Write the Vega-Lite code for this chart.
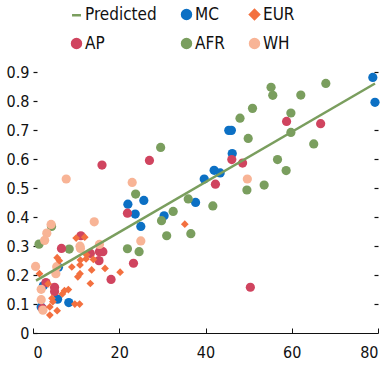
{
  "$schema": "https://vega.github.io/schema/vega-lite/v6.json",
  "autosize": {"type": "none"},
  "padding": {"left": 33, "top": 58, "right": 10, "bottom": 32},
  "width": 345,
  "height": 275,
  "config": {
    "view": {"stroke": null},
    "font": "DejaVu Sans Condensed, Liberation Sans Narrow, Roboto, sans-serif",
    "axis": {"labelFont": "DejaVu Sans Condensed, Liberation Sans Narrow, Roboto, sans-serif", "labelFontSize": 16, "labelColor": "#111", "tickColor": "#111", "domainColor": "#111", "grid": false, "title": null},
    "legend": {"labelFont": "DejaVu Sans Condensed, Liberation Sans Narrow, Roboto, sans-serif"}
  },
  "datasets": {
    "pred": [
      {"x": 0.7, "y": 0.181, "series": "Predicted"},
      {"x": 79.3, "y": 0.862, "series": "Predicted"}
    ],
    "pts": [
      {"x": 78.8, "y": 0.883, "series": "MC"},
      {"x": 79.3, "y": 0.797, "series": "MC"},
      {"x": 45.4, "y": 0.70, "series": "MC"},
      {"x": 46.0, "y": 0.70, "series": "MC"},
      {"x": 46.2, "y": 0.62, "series": "MC"},
      {"x": 42.0, "y": 0.562, "series": "MC"},
      {"x": 43.4, "y": 0.553, "series": "MC"},
      {"x": 39.7, "y": 0.532, "series": "MC"},
      {"x": 37.7, "y": 0.451, "series": "MC"},
      {"x": 30.4, "y": 0.405, "series": "MC"},
      {"x": 22.0, "y": 0.445, "series": "MC"},
      {"x": 25.7, "y": 0.458, "series": "MC"},
      {"x": 23.7, "y": 0.411, "series": "MC"},
      {"x": 25.0, "y": 0.368, "series": "MC"},
      {"x": 5.9, "y": 0.227, "series": "MC"},
      {"x": 2.4, "y": 0.163, "series": "MC"},
      {"x": 5.7, "y": 0.117, "series": "MC"},
      {"x": 8.3, "y": 0.105, "series": "MC"},
      {"x": 1.9, "y": 0.09, "series": "MC"},
      {"x": 55.2, "y": 0.849, "series": "AFR"},
      {"x": 55.6, "y": 0.821, "series": "AFR"},
      {"x": 67.9, "y": 0.862, "series": "AFR"},
      {"x": 62.1, "y": 0.822, "series": "AFR"},
      {"x": 50.9, "y": 0.776, "series": "AFR"},
      {"x": 48.0, "y": 0.742, "series": "AFR"},
      {"x": 59.8, "y": 0.76, "series": "AFR"},
      {"x": 59.8, "y": 0.693, "series": "AFR"},
      {"x": 49.9, "y": 0.672, "series": "AFR"},
      {"x": 65.1, "y": 0.653, "series": "AFR"},
      {"x": 56.7, "y": 0.599, "series": "AFR"},
      {"x": 58.7, "y": 0.561, "series": "AFR"},
      {"x": 53.6, "y": 0.511, "series": "AFR"},
      {"x": 49.6, "y": 0.494, "series": "AFR"},
      {"x": 41.7, "y": 0.439, "series": "AFR"},
      {"x": 36.0, "y": 0.463, "series": "AFR"},
      {"x": 32.5, "y": 0.42, "series": "AFR"},
      {"x": 29.8, "y": 0.388, "series": "AFR"},
      {"x": 31.0, "y": 0.336, "series": "AFR"},
      {"x": 36.6, "y": 0.343, "series": "AFR"},
      {"x": 29.6, "y": 0.641, "series": "AFR"},
      {"x": 23.8, "y": 0.48, "series": "AFR"},
      {"x": 21.9, "y": 0.291, "series": "AFR"},
      {"x": 24.6, "y": 0.281, "series": "AFR"},
      {"x": 1.4, "y": 0.307, "series": "AFR"},
      {"x": 8.4, "y": 0.29, "series": "AFR"},
      {"x": 4.3, "y": 0.368, "series": "AFR"},
      {"x": 58.8, "y": 0.731, "series": "AP"},
      {"x": 66.7, "y": 0.723, "series": "AP"},
      {"x": 46.1, "y": 0.599, "series": "AP"},
      {"x": 48.6, "y": 0.587, "series": "AP"},
      {"x": 42.3, "y": 0.514, "series": "AP"},
      {"x": 50.4, "y": 0.158, "series": "AP"},
      {"x": 27.0, "y": 0.596, "series": "AP"},
      {"x": 21.9, "y": 0.414, "series": "AP"},
      {"x": 16.0, "y": 0.58, "series": "AP"},
      {"x": 6.6, "y": 0.292, "series": "AP"},
      {"x": 11.1, "y": 0.336, "series": "AP"},
      {"x": 15.4, "y": 0.281, "series": "AP"},
      {"x": 16.2, "y": 0.281, "series": "AP"},
      {"x": 15.3, "y": 0.25, "series": "AP"},
      {"x": 18.1, "y": 0.185, "series": "AP"},
      {"x": 23.3, "y": 0.241, "series": "AP"},
      {"x": 13.3, "y": 0.275, "series": "AP"},
      {"x": 3.0, "y": 0.174, "series": "AP"},
      {"x": 5.0, "y": 0.158, "series": "AP"},
      {"x": 5.0, "y": 0.143, "series": "AP"},
      {"x": 2.2, "y": 0.085, "series": "AP"},
      {"x": 49.7, "y": 0.532, "series": "WH"},
      {"x": 23.0, "y": 0.52, "series": "WH"},
      {"x": 25.0, "y": 0.318, "series": "WH"},
      {"x": 7.7, "y": 0.532, "series": "WH"},
      {"x": 14.2, "y": 0.384, "series": "WH"},
      {"x": 4.2, "y": 0.375, "series": "WH"},
      {"x": 3.2, "y": 0.345, "series": "WH"},
      {"x": 2.7, "y": 0.32, "series": "WH"},
      {"x": 0.6, "y": 0.23, "series": "WH"},
      {"x": 11.0, "y": 0.292, "series": "WH"},
      {"x": 10.9, "y": 0.3, "series": "WH"},
      {"x": 15.4, "y": 0.306, "series": "WH"},
      {"x": 5.5, "y": 0.229, "series": "WH"},
      {"x": 1.9, "y": 0.151, "series": "WH"},
      {"x": 1.9, "y": 0.115, "series": "WH"},
      {"x": 2.3, "y": 0.079, "series": "WH"},
      {"x": 5.3, "y": 0.205, "series": "WH"},
      {"x": 10.0, "y": 0.328, "series": "EUR"},
      {"x": 12.0, "y": 0.331, "series": "EUR"},
      {"x": 12.3, "y": 0.256, "series": "EUR"},
      {"x": 14.0, "y": 0.254, "series": "EUR"},
      {"x": 12.4, "y": 0.27, "series": "EUR"},
      {"x": 6.1, "y": 0.25, "series": "EUR"},
      {"x": 5.6, "y": 0.26, "series": "EUR"},
      {"x": 9.0, "y": 0.228, "series": "EUR"},
      {"x": 10.9, "y": 0.235, "series": "EUR"},
      {"x": 11.0, "y": 0.252, "series": "EUR"},
      {"x": 13.6, "y": 0.218, "series": "EUR"},
      {"x": 16.7, "y": 0.223, "series": "EUR"},
      {"x": 20.2, "y": 0.21, "series": "EUR"},
      {"x": 10.9, "y": 0.205, "series": "EUR"},
      {"x": 10.4, "y": 0.194, "series": "EUR"},
      {"x": 1.5, "y": 0.205, "series": "EUR"},
      {"x": 13.3, "y": 0.171, "series": "EUR"},
      {"x": 3.5, "y": 0.17, "series": "EUR"},
      {"x": 8.2, "y": 0.15, "series": "EUR"},
      {"x": 7.3, "y": 0.146, "series": "EUR"},
      {"x": 6.8, "y": 0.135, "series": "EUR"},
      {"x": 4.4, "y": 0.12, "series": "EUR"},
      {"x": 4.6, "y": 0.108, "series": "EUR"},
      {"x": 9.7, "y": 0.1, "series": "EUR"},
      {"x": 10.8, "y": 0.1, "series": "EUR"},
      {"x": 3.9, "y": 0.09, "series": "EUR"},
      {"x": 5.6, "y": 0.077, "series": "EUR"},
      {"x": 3.9, "y": 0.062, "series": "EUR"},
      {"x": 35.2, "y": 0.376, "series": "EUR"}
    ]
  },
  "layer": [
    {
      "data": {"name": "pts"},
      "mark": {"type": "point", "filled": true, "opacity": 1},
      "encoding": {
        "x": {"field": "x", "type": "quantitative", "scale": {"domain": [0, 80], "nice": false},
          "axis": {"values": [0, 20, 40, 60, 80], "tickSize": -5, "labelPadding": 16, "domainWidth": 1.2}},
        "y": {"field": "y", "type": "quantitative", "scale": {"domain": [0, 0.95], "nice": false},
          "axis": {"orient": "right", "values": [0.1, 0.2, 0.3, 0.4, 0.5, 0.6, 0.7, 0.8, 0.9], "labels": false, "domain": false, "tickSize": -4, "tickWidth": 1.2}},
        "color": {"field": "series", "type": "nominal",
          "scale": {"domain": ["Predicted", "MC", "EUR", "AP", "AFR", "WH"], "range": ["#7a9e5e", "#0c70c4", "#f3703f", "#d0445f", "#7a9e5e", "#f8b496"]},
          "legend": {
            "orient": "none", "legendX": 35, "legendY": -52, "direction": "horizontal", "columns": 3,
            "title": null, "labelFontSize": 17, "labelColor": "#111", "columnPadding": 20, "rowPadding": 10,
            "symbolSize": 80, "labelOffset": 0, "symbolStrokeWidth": 2.5,
            "values": ["Predicted", "MC", "EUR", "AP", "AFR", "WH"],
            "labelExpr": "datum.label === 'AFR' ? datum.label + '\u2007' : datum.label",
            "encode": {
              "symbols": {"update": {
                "shape": {"signal": "datum.value === 'Predicted' ? 'stroke' : datum.value === 'EUR' ? 'diamond' : 'circle'"},
                "fill": {"signal": "datum.value === 'Predicted' ? 'transparent' : scale('color', datum.value)"},
                "stroke": {"signal": "scale('color', datum.value)"},
                "strokeWidth": {"signal": "datum.value === 'Predicted' ? 2.5 : 0"},
                "size": {"signal": "datum.value === 'Predicted' ? 150 : datum.value === 'EUR' ? 60 : 80"},
                "opacity": {"value": 1}
              }}
            }
          }},
        "shape": {"field": "series", "type": "nominal",
          "scale": {"domain": ["Predicted", "MC", "EUR", "AP", "AFR", "WH"], "range": ["stroke", "circle", "diamond", "circle", "circle", "circle"]},
          "legend": null},
        "size": {"condition": {"test": "datum.series === 'EUR'", "value": 60}, "value": 85}
      }
    },
    {
      "data": {"name": "pred"},
      "mark": {"type": "line", "strokeWidth": 2.5},
      "encoding": {
        "x": {"field": "x", "type": "quantitative"},
        "y": {"field": "y", "type": "quantitative",
          "axis": {"orient": "left", "values": [0, 0.1, 0.2, 0.3, 0.4, 0.5, 0.6, 0.7, 0.8, 0.9], "domain": false, "tickSize": -4, "tickWidth": 1.2, "labelPadding": 8,
            "labelExpr": "datum.value === 0 ? '0' : format(datum.value, '.1f')"}},
        "color": {"field": "series", "type": "nominal"}
      }
    }
  ],
  "resolve": {"axis": {"y": "independent"}}
}
